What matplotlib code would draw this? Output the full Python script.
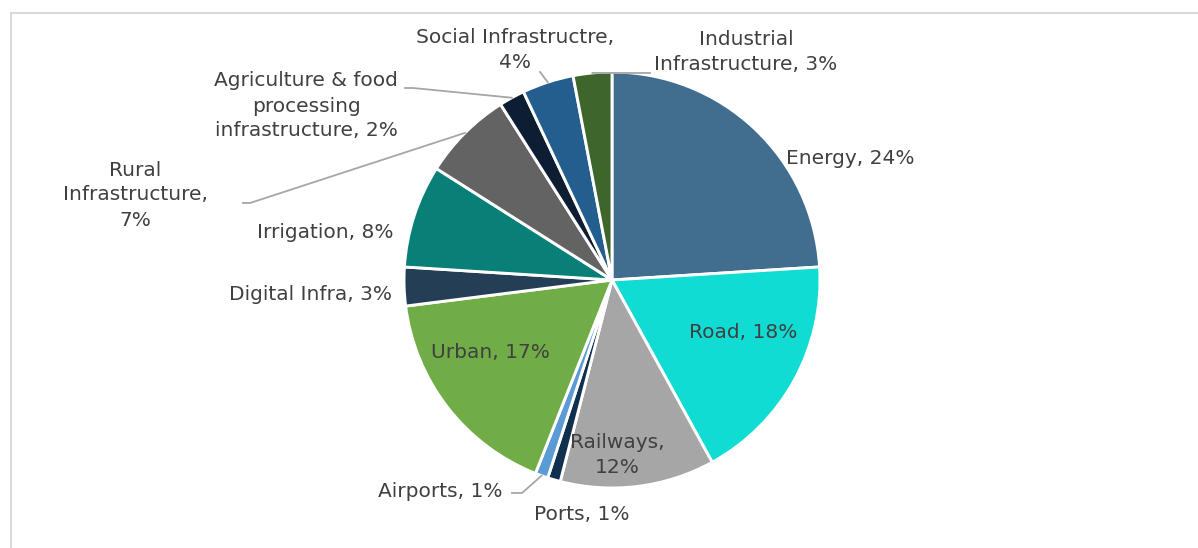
import numpy as np
import matplotlib.pyplot as plt

# sector shares (%), clockwise from 12 o'clock
sectors = ['Energy', 'Road', 'Railways', 'Ports', 'Airports', 'Urban', 'Digital Infra',
           'Irrigation', 'Rural Infrastructure', 'Agriculture & food processing infrastructure',
           'Social Infrastructre', 'Industrial Infrastructure']
shares = [24, 18, 12, 1, 1, 17, 3, 8, 7, 2, 4, 3]
label_text = ['Energy, 24%', 'Road, 18%', 'Railways,\n12%', 'Ports, 1%', 'Airports, 1%',
              'Urban, 17%', 'Digital Infra, 3%', 'Irrigation, 8%', 'Rural\nInfrastructure,\n7%',
              'Agriculture & food\nprocessing\ninfrastructure, 2%', 'Social Infrastructre,\n4%',
              'Industrial\nInfrastructure, 3%']
colors = ['#416E8F', '#10DCD4', '#A6A6A6', '#10304F', '#5B9BD5', '#70AD47', '#243F55',
          '#088078', '#636363', '#0E1E32', '#245E8F', '#3F662A']

W, H = 1198, 548
cx, cy, R = 612, 280, 208

fig = plt.figure(figsize=(W / 100, H / 100), dpi=100)
fig.patches.append(plt.Rectangle((11 / W, -0.01), 1.1, (H - 13) / H + 0.01, transform=fig.transFigure,
                                 fill=False, edgecolor='#D9D9D9', linewidth=1.5))
ax = fig.add_axes([(cx - R) / W, (H - cy - R) / H, 2 * R / W, 2 * R / H])
wedges, _ = ax.pie(shares, colors=colors, startangle=90, counterclock=False,
                   wedgeprops=dict(edgecolor='white', linewidth=2.1))
ax.set_xlim(-1, 1)
ax.set_ylim(-1, 1)
ax.set_aspect('equal')
ax.axis('off')


def px(x, y):
    return (x - cx) / R, (cy - y) / R


# label centres in pixel coords of the original image
label_pos = [(850, 158), (743, 333), (617, 455), (582, 515), (440, 492), (490, 352),
             (310, 294), (325, 233), (135, 195), (306, 106), (515, 50), (746, 52)]
for txt, (x, y) in zip(label_text, label_pos):
    ax.text(*px(x, y), txt, ha='center', va='center', fontsize=14.5, color='#404040',
            family='DejaVu Sans', linespacing=1.4)

# leader lines: slice edge at mid-angle -> elbow
cum = np.cumsum([0] + shares)
mid = 90 - (cum[:-1] + np.array(shares) / 2) / 100 * 360
elbows = {11: [(650, 73)], 10: [(540, 72)], 9: [(413, 88), (405, 88)],
          8: [(250, 203), (243, 203)], 4: [(522, 493), (512, 493)]}
for i, pts in elbows.items():
    a = np.deg2rad(mid[i])
    xs = [np.cos(a)] + [px(*p)[0] for p in pts]
    ys = [np.sin(a)] + [px(*p)[1] for p in pts]
    ax.plot(xs, ys, color='#A6A6A6', linewidth=1.3, clip_on=False)

fig.savefig('out.png', dpi=100)
